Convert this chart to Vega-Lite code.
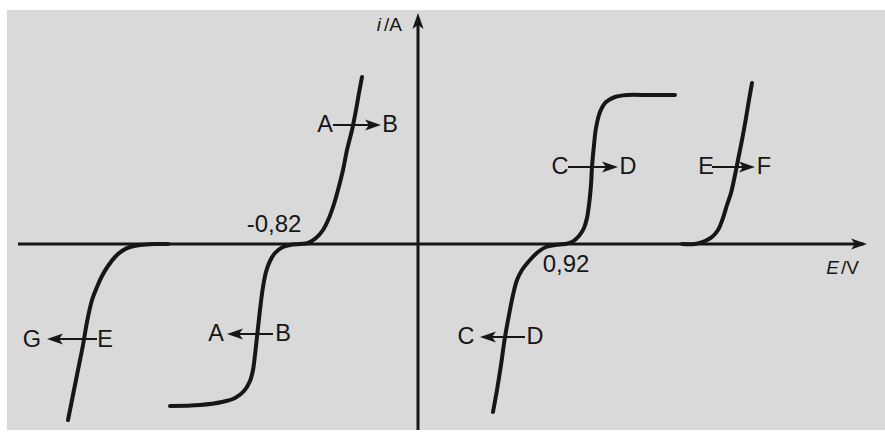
{
  "$schema": "https://vega.github.io/schema/vega-lite/v6.json",
  "width": 878,
  "height": 420,
  "autosize": {"type": "none"},
  "padding": {"left": 7, "top": 10, "right": 0, "bottom": 9},
  "background": "white",
  "config": {"view": {"fill": "#d9d9d9", "stroke": null}},
  "datasets": {
    "axes": [
      {"E": -2.6316, "i": 0, "E2": 2.93, "i2": 0},
      {"E": 0, "i": -1.86, "E2": 0, "i2": 2.26}
    ],
    "axisHeads": [
      {"E": 2.9013, "i": 0, "dir": "right"},
      {"E": 0, "i": 2.23, "dir": "up"}
    ],
    "arrows": [
      {"E": -0.5592, "E2": -0.2961, "i": 1.19, "dir": "right"},
      {"E": 0.9868, "E2": 1.2632, "i": 0.77, "dir": "right"},
      {"E": 1.9342, "E2": 2.1645, "i": 0.77, "dir": "right"},
      {"E": -2.1118, "E2": -2.3882, "i": -0.95, "dir": "left"},
      {"E": -0.9539, "E2": -1.2039, "i": -0.9, "dir": "left"},
      {"E": 0.7039, "E2": 0.4605, "i": -0.93, "dir": "left"}
    ],
    "curves": [
      {"curve": "AB", "E": -1.6316, "i": -1.62},
      {"curve": "AB", "E": -1.4342, "i": -1.61},
      {"curve": "AB", "E": -1.2895, "i": -1.58},
      {"curve": "AB", "E": -1.2039, "i": -1.54},
      {"curve": "AB", "E": -1.1447, "i": -1.47},
      {"curve": "AB", "E": -1.1053, "i": -1.37},
      {"curve": "AB", "E": -1.0855, "i": -1.26},
      {"curve": "AB", "E": -1.0724, "i": -1.11},
      {"curve": "AB", "E": -1.0592, "i": -0.93},
      {"curve": "AB", "E": -1.0395, "i": -0.66},
      {"curve": "AB", "E": -1.0197, "i": -0.43},
      {"curve": "AB", "E": -1.0, "i": -0.28},
      {"curve": "AB", "E": -0.9737, "i": -0.17},
      {"curve": "AB", "E": -0.9408, "i": -0.09},
      {"curve": "AB", "E": -0.8947, "i": -0.035},
      {"curve": "AB", "E": -0.8421, "i": -0.01},
      {"curve": "AB", "E": -0.7763, "i": 0},
      {"curve": "AB", "E": -0.7237, "i": 0.01},
      {"curve": "AB", "E": -0.6711, "i": 0.06},
      {"curve": "AB", "E": -0.625, "i": 0.14},
      {"curve": "AB", "E": -0.5855, "i": 0.26},
      {"curve": "AB", "E": -0.5526, "i": 0.4},
      {"curve": "AB", "E": -0.5263, "i": 0.54},
      {"curve": "AB", "E": -0.4934, "i": 0.74},
      {"curve": "AB", "E": -0.4671, "i": 0.94},
      {"curve": "AB", "E": -0.4342, "i": 1.14},
      {"curve": "AB", "E": -0.4079, "i": 1.34},
      {"curve": "AB", "E": -0.3882, "i": 1.51},
      {"curve": "AB", "E": -0.3684, "i": 1.67},
      {"curve": "GE", "E": -2.3026, "i": -1.76},
      {"curve": "GE", "E": -2.2763, "i": -1.56},
      {"curve": "GE", "E": -2.2434, "i": -1.31},
      {"curve": "GE", "E": -2.2039, "i": -1.01},
      {"curve": "GE", "E": -2.1776, "i": -0.78},
      {"curve": "GE", "E": -2.1447, "i": -0.56},
      {"curve": "GE", "E": -2.1118, "i": -0.43},
      {"curve": "GE", "E": -2.0789, "i": -0.32},
      {"curve": "GE", "E": -2.0395, "i": -0.22},
      {"curve": "GE", "E": -1.9934, "i": -0.13},
      {"curve": "GE", "E": -1.9474, "i": -0.07},
      {"curve": "GE", "E": -1.8947, "i": -0.03},
      {"curve": "GE", "E": -1.8289, "i": -0.01},
      {"curve": "GE", "E": -1.7303, "i": 0},
      {"curve": "GE", "E": -1.6447, "i": 0},
      {"curve": "CD", "E": 0.4934, "i": -1.68},
      {"curve": "CD", "E": 0.5197, "i": -1.46},
      {"curve": "CD", "E": 0.5461, "i": -1.21},
      {"curve": "CD", "E": 0.5724, "i": -0.93},
      {"curve": "CD", "E": 0.5987, "i": -0.71},
      {"curve": "CD", "E": 0.625, "i": -0.51},
      {"curve": "CD", "E": 0.6513, "i": -0.36},
      {"curve": "CD", "E": 0.6842, "i": -0.26},
      {"curve": "CD", "E": 0.7368, "i": -0.16},
      {"curve": "CD", "E": 0.7895, "i": -0.08},
      {"curve": "CD", "E": 0.8421, "i": -0.03},
      {"curve": "CD", "E": 0.9013, "i": -0.01},
      {"curve": "CD", "E": 0.9671, "i": 0},
      {"curve": "CD", "E": 1.0132, "i": 0.02},
      {"curve": "CD", "E": 1.0592, "i": 0.08},
      {"curve": "CD", "E": 1.0921, "i": 0.16},
      {"curve": "CD", "E": 1.1118, "i": 0.26},
      {"curve": "CD", "E": 1.125, "i": 0.39},
      {"curve": "CD", "E": 1.1382, "i": 0.59},
      {"curve": "CD", "E": 1.1447, "i": 0.77},
      {"curve": "CD", "E": 1.1579, "i": 0.99},
      {"curve": "CD", "E": 1.1711, "i": 1.16},
      {"curve": "CD", "E": 1.1974, "i": 1.32},
      {"curve": "CD", "E": 1.2368, "i": 1.42},
      {"curve": "CD", "E": 1.2961, "i": 1.47},
      {"curve": "CD", "E": 1.375, "i": 1.49},
      {"curve": "CD", "E": 1.5263, "i": 1.49},
      {"curve": "CD", "E": 1.6908, "i": 1.49},
      {"curve": "EF", "E": 1.7368, "i": 0},
      {"curve": "EF", "E": 1.8224, "i": 0},
      {"curve": "EF", "E": 1.8882, "i": 0.03},
      {"curve": "EF", "E": 1.9342, "i": 0.07},
      {"curve": "EF", "E": 1.9737, "i": 0.14},
      {"curve": "EF", "E": 2.0066, "i": 0.26},
      {"curve": "EF", "E": 2.0329, "i": 0.39},
      {"curve": "EF", "E": 2.0592, "i": 0.51},
      {"curve": "EF", "E": 2.0855, "i": 0.69},
      {"curve": "EF", "E": 2.1053, "i": 0.84},
      {"curve": "EF", "E": 2.1316, "i": 1.04},
      {"curve": "EF", "E": 2.1579, "i": 1.26},
      {"curve": "EF", "E": 2.1776, "i": 1.44},
      {"curve": "EF", "E": 2.1974, "i": 1.61}
    ],
    "labels": [
      {"role": "letter", "text": "A", "E": -0.6118, "i": 1.19},
      {"role": "letter", "text": "B", "E": -0.1842, "i": 1.19},
      {"role": "letter", "text": "C", "E": 0.9342, "i": 0.77},
      {"role": "letter", "text": "D", "E": 1.3816, "i": 0.77},
      {"role": "letter", "text": "E", "E": 1.8947, "i": 0.77},
      {"role": "letter", "text": "F", "E": 2.2763, "i": 0.77},
      {"role": "letter", "text": "G", "E": -2.5395, "i": -0.96},
      {"role": "letter", "text": "E", "E": -2.0592, "i": -0.96},
      {"role": "letter", "text": "A", "E": -1.3289, "i": -0.9},
      {"role": "letter", "text": "B", "E": -0.8882, "i": -0.9},
      {"role": "letter", "text": "C", "E": 0.3158, "i": -0.93},
      {"role": "letter", "text": "D", "E": 0.7697, "i": -0.93},
      {"role": "value", "text": "-0,82", "E": -0.9474, "i": 0.19},
      {"role": "value", "text": "0,92", "E": 0.9737, "i": -0.21},
      {"role": "symbol", "text": "i", "E": -0.2434, "i": 2.19},
      {"role": "unit", "text": "/A", "E": -0.2237, "i": 2.19},
      {"role": "symbol", "text": "E", "E": 2.7697, "i": -0.24},
      {"role": "unit", "text": "/V", "E": 2.7829, "i": -0.24}
    ]
  },
  "encoding": {
    "x": {"field": "E", "type": "quantitative", "axis": null, "scale": {"domain": [-2.7039, 3.0724], "nice": false, "zero": false}},
    "y": {"field": "i", "type": "quantitative", "axis": null, "scale": {"domain": [-1.86, 2.34], "nice": false, "zero": false}}
  },
  "layer": [
    {
      "data": {"name": "axes"},
      "mark": {"type": "rule", "color": "#161616", "strokeWidth": 3, "clip": true},
      "encoding": {"x2": {"field": "E2"}, "y2": {"field": "i2"}}
    },
    {
      "data": {"name": "axisHeads"},
      "mark": {"type": "point", "filled": true, "color": "#161616", "opacity": 1, "size": 256, "strokeWidth": 0},
      "encoding": {
        "shape": {"field": "dir", "type": "nominal", "legend": null, "scale": {"domain": ["right", "left", "up"], "range": ["M-1,-0.7L1,0L-1,0.7L-0.5,0Z", "M1,-0.7L-1,0L1,0.7L0.5,0Z", "M-0.7,1L0,-1L0.7,1L0,0.5Z"]}}
      }
    },
    {
      "data": {"name": "curves"},
      "mark": {"type": "line", "color": "#161616", "strokeWidth": 4, "interpolate": "catmull-rom", "strokeCap": "round", "clip": true},
      "encoding": {"detail": {"field": "curve"}, "order": {"value": null}}
    },
    {
      "data": {"name": "arrows"},
      "mark": {"type": "rule", "color": "#161616", "strokeWidth": 2.2},
      "encoding": {"x2": {"field": "E2"}}
    },
    {
      "data": {"name": "arrows"},
      "mark": {"type": "point", "filled": true, "color": "#161616", "opacity": 1, "size": 256, "strokeWidth": 0},
      "encoding": {
        "x": {"field": "E2", "type": "quantitative"},
        "shape": {"field": "dir", "type": "nominal", "legend": null, "scale": {"domain": ["right", "left", "up"], "range": ["M-1,-0.55L1,0L-1,0.55L-0.55,0Z", "M1,-0.55L-1,0L1,0.55L0.55,0Z", "M-0.55,1L0,-1L0.55,1L0,0.55Z"]}}
      }
    },
    {
      "data": {"name": "labels"},
      "transform": [{"filter": "datum.role === 'letter'"}],
      "mark": {"type": "text", "font": "Liberation Sans", "fontSize": 23.5, "color": "#161616", "align": "center", "baseline": "middle"},
      "encoding": {"text": {"field": "text"}}
    },
    {
      "data": {"name": "labels"},
      "transform": [{"filter": "datum.role === 'value'"}],
      "mark": {"type": "text", "font": "Liberation Sans", "fontSize": 24, "color": "#161616", "align": "center", "baseline": "middle"},
      "encoding": {"text": {"field": "text"}}
    },
    {
      "data": {"name": "labels"},
      "transform": [{"filter": "datum.role === 'symbol'"}],
      "mark": {"type": "text", "font": "Liberation Sans", "fontSize": 19, "fontStyle": "italic", "color": "#161616", "align": "right", "baseline": "middle"},
      "encoding": {"text": {"field": "text"}}
    },
    {
      "data": {"name": "labels"},
      "transform": [{"filter": "datum.role === 'unit'"}],
      "mark": {"type": "text", "font": "Liberation Sans", "fontSize": 19, "color": "#161616", "align": "left", "baseline": "middle"},
      "encoding": {"text": {"field": "text"}}
    }
  ]
}
